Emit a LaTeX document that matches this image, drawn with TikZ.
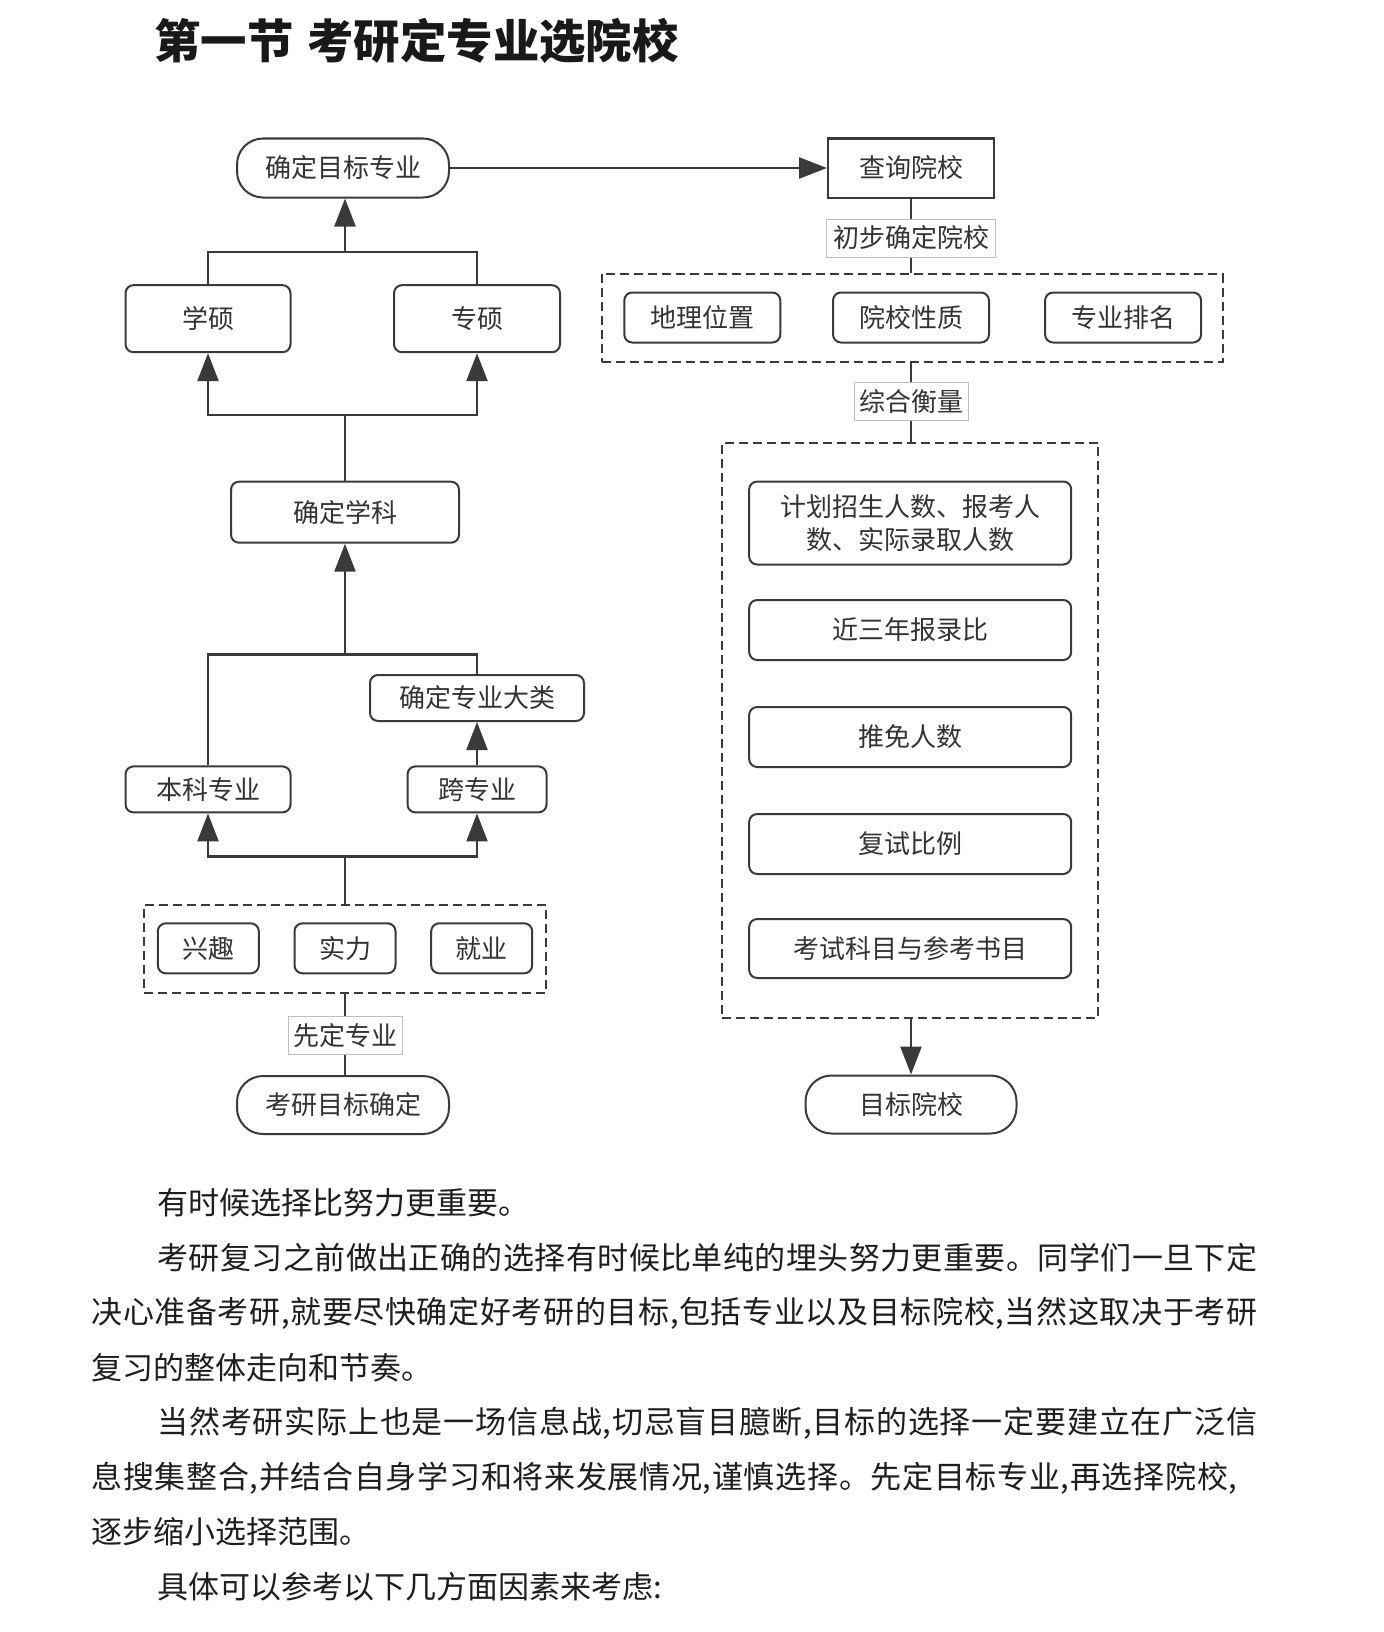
\documentclass[tikz,border=0pt]{standalone}
\usepackage{fontspec}
\setmainfont{Noto Sans CJK SC}
\usetikzlibrary{arrows.meta}
\definecolor{linec}{HTML}{3A3A3A}
\definecolor{textc}{HTML}{333333}
\definecolor{bodyc}{HTML}{1E1E1E}
% spread the characters of a full text line over a given width
\makeatletter
\newcommand\jline[2]{\hbox to #1{\@tfor\jc:=#2\do{\jc\hfil}\unskip}}
\makeatother

\begin{document}
\begin{tikzpicture}[x=0.5pt,y=-0.5pt,
    box/.style={draw=linec, line width=1pt, rounded corners=4pt, fill=white,
      text=textc, inner sep=0pt, font=\fontsize{13pt}{16.5pt}\selectfont},
    pill/.style={box, rounded corners=13pt},
    tag/.style={draw=black!25, line width=0.5pt, fill=white, text=textc,
      inner sep=0pt, minimum height=19pt, font=\fontsize{13pt}{16pt}\selectfont},
    group/.style={draw=linec, line width=1pt, dash pattern=on 4.5pt off 2.5pt},
    conn/.style={draw=linec, line width=1.2pt},
    arr/.style={conn, -{Triangle[length=14pt,width=10.5pt]}},
    para/.style={anchor=west, inner sep=0pt, text=bodyc,
      font=\fontsize{15.5pt}{20pt}\selectfont}]
  \useasboundingbox (0,0) rectangle (1383,1632);

  % Title
  \node[anchor=west, inner sep=0pt, text=black!90,
    font=\bfseries\fontsize{23.2pt}{27pt}\selectfont] (title) at (154,41)
    {第一节\hspace{0.3em}考研定专业选院校};

  % Left column: choose the major
  \node[pill, minimum width=106pt, minimum height=29.5pt] (mt) at (343,168) {确定目标专业};
  \node[box, minimum width=82.5pt, minimum height=33.5pt] (xs) at (208,318.7) {学硕};
  \node[box, minimum width=83pt, minimum height=33.5pt] (zs) at (477,318.7) {专硕};
  \node[box, minimum width=114pt, minimum height=30.5pt] (xk) at (345,512.2) {确定学科};
  \node[box, minimum width=107pt, minimum height=23pt] (dl) at (477,698) {确定专业大类};
  \node[box, minimum width=82.5pt, minimum height=23pt] (bk) at (208,789.4) {本科专业};
  \node[box, minimum width=69.5pt, minimum height=23pt] (kz) at (477,789.4) {跨专业};

  \node[group, minimum width=201pt, minimum height=43.9pt] (gA) at (345,948.7) {};
  \node[box, minimum width=50.5pt, minimum height=25pt] (xq) at (208.3,948.3) {兴趣};
  \node[box, minimum width=50.5pt, minimum height=25pt] (sl) at (345,948.3) {实力};
  \node[box, minimum width=50.5pt, minimum height=25pt] (jy) at (481.7,948.3) {就业};

  \node[tag, minimum width=57pt] (xd) at (345,1035.2) {先定专业};
  \node[pill, minimum width=106pt, minimum height=29pt] (ky) at (343,1105) {考研目标确定};

  \draw[conn] (xd.south) -- (xd.south |- ky.north);
  \draw[conn] (xd.north) -- (xd.north |- gA.south);
  \coordinate (t1) at (345,856.5);
  \draw[conn] (gA.north -| t1) -- (t1);
  \draw[arr] (t1) -| (bk.south);
  \draw[arr] (t1) -| (kz.south);
  \draw[arr] (kz.north) -- (dl.south);
  \coordinate (t2) at (345,654.4);
  \draw[conn] (bk.north) |- (t2) -| (dl.north);
  \draw[arr] (t2) -- (t2 |- xk.south);
  \coordinate (t3) at (345,415);
  \draw[conn] (xk.north) -- (t3);
  \draw[arr] (t3) -| (xs.south);
  \draw[arr] (t3) -| (zs.south);
  \coordinate (t4) at (345,251.7);
  \draw[conn] (xs.north) |- (t4) -| (zs.north);
  \draw[arr] (t4) -- (t4 |- mt.south);

  % Right column: choose the school
  \node[box, rounded corners=0pt, minimum width=83pt, minimum height=29.5pt] (cx) at (911,168) {查询院校};
  \node[tag, minimum width=84.5pt] (cb) at (911,238) {初步确定院校};

  \node[group, minimum width=310.5pt, minimum height=43.85pt] (gB) at (912,317.9) {};
  \node[box, minimum width=78pt, minimum height=25pt] (dw) at (702.3,317.5) {地理位置};
  \node[box, minimum width=78pt, minimum height=25pt] (yx) at (911,317.5) {院校性质};
  \node[box, minimum width=78pt, minimum height=25pt] (pm) at (1123.1,317.5) {专业排名};

  \node[tag, minimum width=57pt] (zh) at (911,401.8) {综合衡量};

  \node[group, minimum width=188pt, minimum height=287.75pt] (gC) at (910.2,730.3) {};
  \node[box, minimum width=161pt, minimum height=41.5pt, align=center] (j1) at (910.2,523)
    {计划招生人数、报考人\\数、实际录取人数};
  \node[box, minimum width=161pt, minimum height=30pt] (j2) at (910.2,630) {近三年报录比};
  \node[box, minimum width=161pt, minimum height=30pt] (j3) at (910.2,737) {推免人数};
  \node[box, minimum width=161pt, minimum height=30pt] (j4) at (910.2,844) {复试比例};
  \node[box, minimum width=161pt, minimum height=29.5pt] (j5) at (910.2,948.5) {考试科目与参考书目};

  \node[pill, minimum width=105.5pt, minimum height=29pt] (mb) at (911,1104.5) {目标院校};

  \draw[arr] (mt.east) -- (cx.west);
  \draw[conn] (cx.south) -- (cb.north);
  \draw[conn] (cb.south) -- (cb.south |- gB.north);
  \draw[conn] (gB.south -| zh) -- (zh.north);
  \draw[conn] (zh.south) -- (zh.south |- gC.north);
  \draw[arr] (gC.south -| mb) -- (mb.north);

  % Body text
  \node[para] (p1) at (157,1203) {有时候选择比努力更重要。};
  \node[para] (p2) at (157,1258) {\jline{550pt}{考研复习之前做出正确的选择有时候比单纯的埋头努力更重要。同学们一旦下定}};
  \node[para] (p3) at (91,1313) {\jline{583pt}{决心准备考研,就要尽快确定好考研的目标,包括专业以及目标院校,当然这取决于考研}};
  \node[para] (p4) at (91,1368) {复习的整体走向和节奏。};
  \node[para] (p5) at (157,1423) {\jline{550pt}{当然考研实际上也是一场信息战,切忌盲目臆断,目标的选择一定要建立在广泛信}};
  \node[para] (p6) at (91,1478) {\jline{573pt}{息搜集整合,并结合自身学习和将来发展情况,谨慎选择。先定目标专业,再选择院校,}};
  \node[para] (p7) at (91,1532) {逐步缩小选择范围。};
  \node[para] (p8) at (157,1587) {具体可以参考以下几方面因素来考虑:};
\end{tikzpicture}
\end{document}
